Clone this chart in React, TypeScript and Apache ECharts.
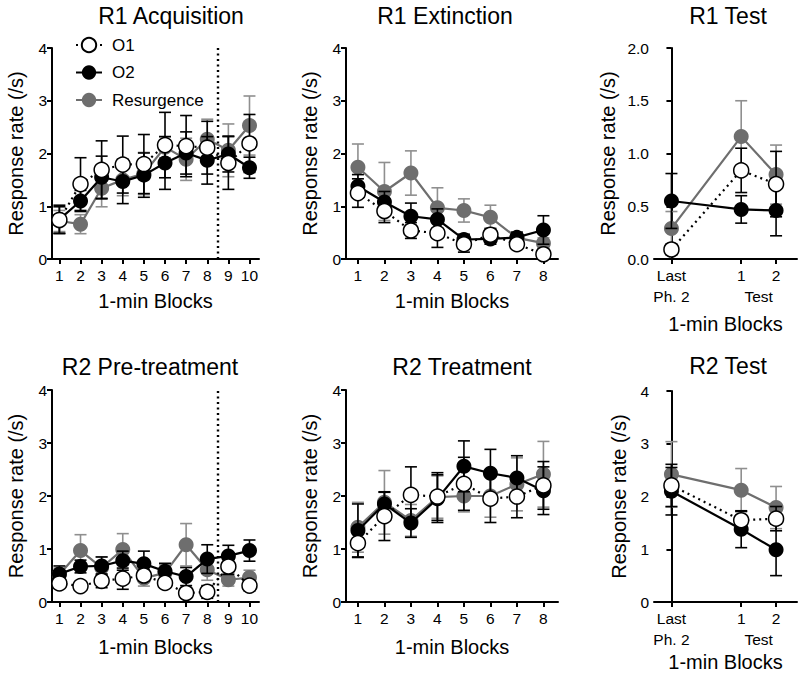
import React, { useEffect, useRef } from "react";
import * as echarts from "echarts";

const FONT = '"Liberation Sans", Arial, Helvetica, sans-serif';

// ---- categories / tick labels ----
const acqBlocks = [1, 2, 3, 4, 5, 6, 7, 8, 9, 10];
const extBlocks = [1, 2, 3, 4, 5, 6, 7, 8];
const testPositions = [0, 2, 3];
const testLabels = ["Last\nPh. 2", "1", "2"];
const testGroupPosition = [2.5];
const testGroupLabel = ["\nTest"];
const phaseDivider = 8.5;

const seriesNames = ["O1", "O2", "Resurgence"];
const panelTitles = ["R1 Acquisition", "R1 Extinction", "R1 Test", "R2 Pre-treatment", "R2 Treatment", "R2 Test"];
const xAxisTitle = "1-min Blocks";
const yAxisTitle = "Response rate (/s)";

// ---- R1 Acquisition ----
const r1AcqO1 = [0.74, 1.42, 1.69, 1.79, 1.8, 2.16, 2.14, 2.11, 1.82, 2.19];
const r1AcqO1Err = [0.25, 0.5, 0.55, 0.54, 0.56, 0.62, 0.58, 0.5, 0.5, 0.55];
const r1AcqO2 = [0.75, 1.1, 1.55, 1.47, 1.59, 1.82, 2.01, 1.87, 1.99, 1.73];
const r1AcqO2Err = [0.27, 0.2, 0.4, 0.42, 0.42, 0.5, 0.4, 0.45, 0.34, 0.2];
const r1AcqRes = [0.72, 0.66, 1.34, 1.5, 1.62, 2.12, 1.89, 2.27, 2.06, 2.53];
const r1AcqResErr = [0.2, 0.18, 0.35, 0.3, 0.4, 0.2, 0.4, 0.38, 0.5, 0.56];

// ---- R1 Extinction ----
const r1ExtO1 = [1.25, 0.91, 0.54, 0.49, 0.28, 0.46, 0.28, 0.09];
const r1ExtO1Err = [0.27, 0.22, 0.15, 0.27, 0.15, 0.12, 0.05, 0.05];
const r1ExtO2 = [1.38, 1.08, 0.81, 0.75, 0.37, 0.38, 0.41, 0.55];
const r1ExtO2Err = [0.22, 0.2, 0.25, 0.2, 0.1, 0.1, 0.1, 0.27];
const r1ExtRes = [1.74, 1.28, 1.63, 0.97, 0.92, 0.79, 0.4, 0.3];
const r1ExtResErr = [0.44, 0.55, 0.42, 0.38, 0.22, 0.23, 0.08, 0.1];

// ---- R1 Test ----
const r1TestO1 = [0.09, 0.84, 0.71];
const r1TestO1Err = [0.05, 0.21, 0.31];
const r1TestO2 = [0.55, 0.47, 0.46];
const r1TestO2Err = [0.26, 0.13, 0.24];
const r1TestRes = [0.29, 1.16, 0.8];
const r1TestResErr = [0.16, 0.34, 0.28];

// ---- R2 Pre-treatment ----
const r2PreO1 = [0.35, 0.3, 0.4, 0.44, 0.5, 0.36, 0.17, 0.19, 0.67, 0.31];
const r2PreO1Err = [0.05, 0.05, 0.13, 0.2, 0.1, 0.05, 0.1, 0.12, 0.15, 0.1];
const r2PreO2 = [0.53, 0.67, 0.68, 0.78, 0.72, 0.58, 0.48, 0.81, 0.87, 0.97];
const r2PreO2Err = [0.15, 0.12, 0.17, 0.18, 0.24, 0.15, 0.17, 0.27, 0.2, 0.2];
const r2PreRes = [0.52, 0.97, 0.65, 0.99, 0.45, 0.55, 1.08, 0.61, 0.42, 0.46];
const r2PreResErr = [0.12, 0.3, 0.2, 0.3, 0.15, 0.15, 0.4, 0.2, 0.12, 0.14];

// ---- R2 Treatment ----
const r2TrtO1 = [1.11, 1.62, 2.02, 1.99, 2.23, 1.95, 1.99, 2.2];
const r2TrtO1Err = [0.27, 0.46, 0.53, 0.45, 0.5, 0.45, 0.4, 0.45];
const r2TrtO2 = [1.35, 1.85, 1.49, 1.95, 2.56, 2.43, 2.34, 2.1];
const r2TrtO2Err = [0.5, 0.22, 0.27, 0.45, 0.48, 0.45, 0.42, 0.45];
const r2TrtRes = [1.41, 1.88, 1.54, 1.98, 2.0, 2.0, 2.22, 2.41];
const r2TrtResErr = [0.47, 0.6, 0.3, 0.4, 0.3, 0.4, 0.5, 0.62];

// ---- R2 Test ----
const r2TestO1 = [2.21, 1.55, 1.58];
const r2TestO1Err = [0.4, 0.17, 0.23];
const r2TestO2 = [2.1, 1.38, 0.99];
const r2TestO2Err = [0.45, 0.35, 0.49];
const r2TestRes = [2.42, 2.12, 1.79];
const r2TestResErr = [0.62, 0.41, 0.4];

type PanelData = {
  xs: number[];
  o1: number[]; o1e: number[];
  o2: number[]; o2e: number[];
  res: number[]; rese: number[];
};

const panelData: PanelData[] = [
  { xs: acqBlocks, o1: r1AcqO1, o1e: r1AcqO1Err, o2: r1AcqO2, o2e: r1AcqO2Err, res: r1AcqRes, rese: r1AcqResErr },
  { xs: extBlocks, o1: r1ExtO1, o1e: r1ExtO1Err, o2: r1ExtO2, o2e: r1ExtO2Err, res: r1ExtRes, rese: r1ExtResErr },
  { xs: testPositions, o1: r1TestO1, o1e: r1TestO1Err, o2: r1TestO2, o2e: r1TestO2Err, res: r1TestRes, rese: r1TestResErr },
  { xs: acqBlocks, o1: r2PreO1, o1e: r2PreO1Err, o2: r2PreO2, o2e: r2PreO2Err, res: r2PreRes, rese: r2PreResErr },
  { xs: extBlocks, o1: r2TrtO1, o1e: r2TrtO1Err, o2: r2TrtO2, o2e: r2TrtO2Err, res: r2TrtRes, rese: r2TrtResErr },
  { xs: testPositions, o1: r2TestO1, o1e: r2TestO1Err, o2: r2TestO2, o2e: r2TestO2Err, res: r2TestRes, rese: r2TestResErr },
];

// ---- layout (positions / styles) ----
type Layout = {
  grid: { left: number; top: number; width: number; height: number };
  xMin: number; xMax: number;
  xTicks: number[]; xLabels: string[];
  yMax: number; yInterval: number; yDecimals: number;
  yNameGap: number; xNameGap: number;
  titleX: number; titleY: number;
  divider: boolean;
  testGroup: boolean;
};

const acqLabels = acqBlocks.map(String);
const extLabels = extBlocks.map(String);

const layouts: Layout[] = [
  { grid: { left: 52, top: 48, width: 207, height: 211 }, xMin: 0.65, xMax: 10.45, xTicks: acqBlocks, xLabels: acqLabels, yMax: 4, yInterval: 1, yDecimals: 0, yNameGap: 26, xNameGap: 32, titleX: 171, titleY: 16, divider: true, testGroup: false },
  { grid: { left: 346, top: 48, width: 212, height: 211 }, xMin: 0.55, xMax: 8.55, xTicks: extBlocks, xLabels: extLabels, yMax: 4, yInterval: 1, yDecimals: 0, yNameGap: 26, xNameGap: 32, titleX: 445, titleY: 16, divider: false, testGroup: false },
  { grid: { left: 654, top: 48, width: 143, height: 211 }, xMin: -0.5, xMax: 3.6, xTicks: testPositions, xLabels: testLabels, yMax: 2, yInterval: 0.5, yDecimals: 1, yNameGap: 36, xNameGap: 55, titleX: 728, titleY: 16, divider: false, testGroup: true },
  { grid: { left: 52, top: 390, width: 207, height: 212 }, xMin: 0.65, xMax: 10.45, xTicks: acqBlocks, xLabels: acqLabels, yMax: 4, yInterval: 1, yDecimals: 0, yNameGap: 26, xNameGap: 35, titleX: 150, titleY: 367, divider: true, testGroup: false },
  { grid: { left: 346, top: 390, width: 212, height: 212 }, xMin: 0.55, xMax: 8.55, xTicks: extBlocks, xLabels: extLabels, yMax: 4, yInterval: 1, yDecimals: 0, yNameGap: 26, xNameGap: 35, titleX: 462, titleY: 367, divider: false, testGroup: false },
  { grid: { left: 654, top: 391, width: 143, height: 211 }, xMin: -0.5, xMax: 3.6, xTicks: testPositions, xLabels: testLabels, yMax: 4, yInterval: 1, yDecimals: 0, yNameGap: 25, xNameGap: 50, titleX: 728, titleY: 366, divider: false, testGroup: true },
];

const GRAY = "#6e6e6e";
const GRAY_ERR = "#8f8f8f";

const styles: Record<string, any> = {
  O1: {
    line: { color: "#000", width: 2.2, type: [2, 4] },
    item: { color: "#fff", borderColor: "#000", borderWidth: 1.5 },
    err: "#000",
    z: 6,
  },
  O2: {
    line: { color: "#000", width: 2.2, type: "solid" },
    item: { color: "#000", borderColor: "#000", borderWidth: 0 },
    err: "#000",
    z: 4,
  },
  Resurgence: {
    line: { color: GRAY, width: 2.2, type: "solid" },
    item: { color: GRAY, borderColor: GRAY, borderWidth: 0 },
    err: GRAY_ERR,
    z: 2,
  },
};

function errSeries(idx: number, xs: number[], ys: number[], errs: number[], color: string, z: number) {
  return {
    type: "custom",
    xAxisIndex: idx,
    yAxisIndex: idx,
    silent: true,
    z,
    encode: { x: 0, y: [1, 2] },
    data: xs.map((x, k) => [x, ys[k] - errs[k], ys[k] + errs[k]]),
    renderItem: (_p: any, api: any) => {
      const x = api.value(0);
      const lo = api.coord([x, api.value(1)]);
      const hi = api.coord([x, api.value(2)]);
      const hw = 6;
      const st = { stroke: color, lineWidth: 1.6 };
      return {
        type: "group",
        children: [
          { type: "line", shape: { x1: lo[0], y1: lo[1], x2: hi[0], y2: hi[1] }, style: st },
          { type: "line", shape: { x1: lo[0] - hw, y1: lo[1], x2: lo[0] + hw, y2: lo[1] }, style: st },
          { type: "line", shape: { x1: hi[0] - hw, y1: hi[1], x2: hi[0] + hw, y2: hi[1] }, style: st },
        ],
      };
    },
  };
}

function lineSeries(idx: number, name: string, xs: number[], ys: number[], divider: boolean) {
  const s = styles[name];
  const out: any = {
    type: "line",
    name,
    xAxisIndex: idx,
    yAxisIndex: idx,
    z: s.z,
    symbol: "circle",
    symbolSize: 15,
    showSymbol: true,
    lineStyle: s.line,
    itemStyle: s.item,
    emphasis: { disabled: true },
    data: xs.map((x, k) => [x, ys[k]]),
  };
  if (divider) {
    out.markLine = {
      silent: true,
      symbol: ["none", "none"],
      label: { show: false },
      lineStyle: { color: "#000", width: 2.4, type: [2, 3.5] },
      data: [{ xAxis: phaseDivider }],
    };
  }
  return out;
}

const labelBase = {
  fontSize: 15.5,
  lineHeight: 21,
  color: "#000",
  fontFamily: FONT,
  margin: 6,
  hideOverlap: false,
  showMinLabel: true,
  showMaxLabel: true,
};

function buildOption() {
  const grids: any[] = [];
  const xAxes: any[] = [];
  const yAxes: any[] = [];
  const series: any[] = [];

  layouts.forEach((L, i) => {
    const d = panelData[i];
    grids.push({ ...L.grid, containLabel: false, outerBoundsMode: "none" });
    xAxes.push({
      gridIndex: i,
      type: "value",
      position: "bottom",
      min: L.xMin,
      max: L.xMax,
      axisLine: { show: true, onZero: false, lineStyle: { color: "#000", width: 2 } },
      axisTick: { show: true, customValues: L.xTicks, length: 5, lineStyle: { color: "#000", width: 2 } },
      axisLabel: {
        ...labelBase,
        customValues: L.xTicks,
        formatter: (v: number) => {
          const k = L.xTicks.findIndex((u) => Math.abs(u - v) < 1e-6);
          return k >= 0 ? L.xLabels[k] : "";
        },
      },
      splitLine: { show: false },
      name: xAxisTitle,
      nameLocation: "middle",
      nameGap: L.xNameGap,
      nameTextStyle: { fontSize: 20, color: "#000", fontFamily: FONT },
    });
    yAxes.push({
      gridIndex: i,
      type: "value",
      min: 0,
      max: L.yMax,
      interval: L.yInterval,
      axisLine: { show: true, lineStyle: { color: "#000", width: 2 } },
      axisTick: { show: true, length: 5, lineStyle: { color: "#000", width: 2 } },
      axisLabel: {
        fontSize: 15.5,
        color: "#000",
        fontFamily: FONT,
        margin: 5,
        showMinLabel: true,
        showMaxLabel: true,
        formatter: (v: number) => v.toFixed(L.yDecimals),
      },
      splitLine: { show: false },
      name: yAxisTitle,
      nameLocation: "middle",
      nameGap: L.yNameGap,
      nameRotate: 90,
      nameTextStyle: { fontSize: 20, color: "#000", fontFamily: FONT },
    });

    series.push(errSeries(i, d.xs, d.res, d.rese, styles.Resurgence.err, 1));
    series.push(lineSeries(i, "Resurgence", d.xs, d.res, L.divider));
    series.push(errSeries(i, d.xs, d.o2, d.o2e, styles.O2.err, 3));
    series.push(lineSeries(i, "O2", d.xs, d.o2, false));
    series.push(errSeries(i, d.xs, d.o1, d.o1e, styles.O1.err, 5));
    series.push(lineSeries(i, "O1", d.xs, d.o1, false));
  });

  // secondary bottom axes carrying the "Test" group label on the test panels
  layouts.forEach((L, i) => {
    if (!L.testGroup) return;
    xAxes.push({
      gridIndex: i,
      type: "value",
      position: "bottom",
      offset: 0,
      min: L.xMin,
      max: L.xMax,
      axisLine: { show: false },
      axisTick: { show: false },
      axisLabel: {
        ...labelBase,
        customValues: testGroupPosition,
        formatter: (v: number) => {
          const k = testGroupPosition.findIndex((u) => Math.abs(u - v) < 1e-6);
          return k >= 0 ? testGroupLabel[k] : "";
        },
      },
      splitLine: { show: false },
    });
  });

  return {
    animation: false,
    backgroundColor: "#fff",
    textStyle: { fontFamily: FONT },
    grid: grids,
    xAxis: xAxes,
    yAxis: yAxes,
    legend: {
      data: seriesNames,
      orient: "vertical",
      left: 70,
      top: 31.5,
      itemWidth: 26,
      itemHeight: 18,
      itemGap: 10.5,
      selectedMode: false,
      textStyle: { fontSize: 17, color: "#000", fontFamily: FONT, padding: [0, 0, 0, 5] },
    },
    graphic: panelTitles.map((t, i) => ({
      type: "text",
      x: layouts[i].titleX,
      y: layouts[i].titleY,
      silent: true,
      style: {
        text: t,
        fontSize: 23,
        fontFamily: FONT,
        fill: "#000",
        textAlign: "center",
        textVerticalAlign: "middle",
      },
    })),
    series,
  };
}

export default function App() {
  const ref = useRef<HTMLDivElement>(null);
  useEffect(() => {
    if (!ref.current) return;
    const chart = echarts.init(ref.current, undefined, { renderer: "svg" });
    chart.setOption(buildOption() as any);
    return () => chart.dispose();
  }, []);
  return (
    <div
      ref={ref}
      style={{ position: "fixed", left: 0, top: 0, width: 800, height: 675, background: "#fff" }}
    />
  );
}
